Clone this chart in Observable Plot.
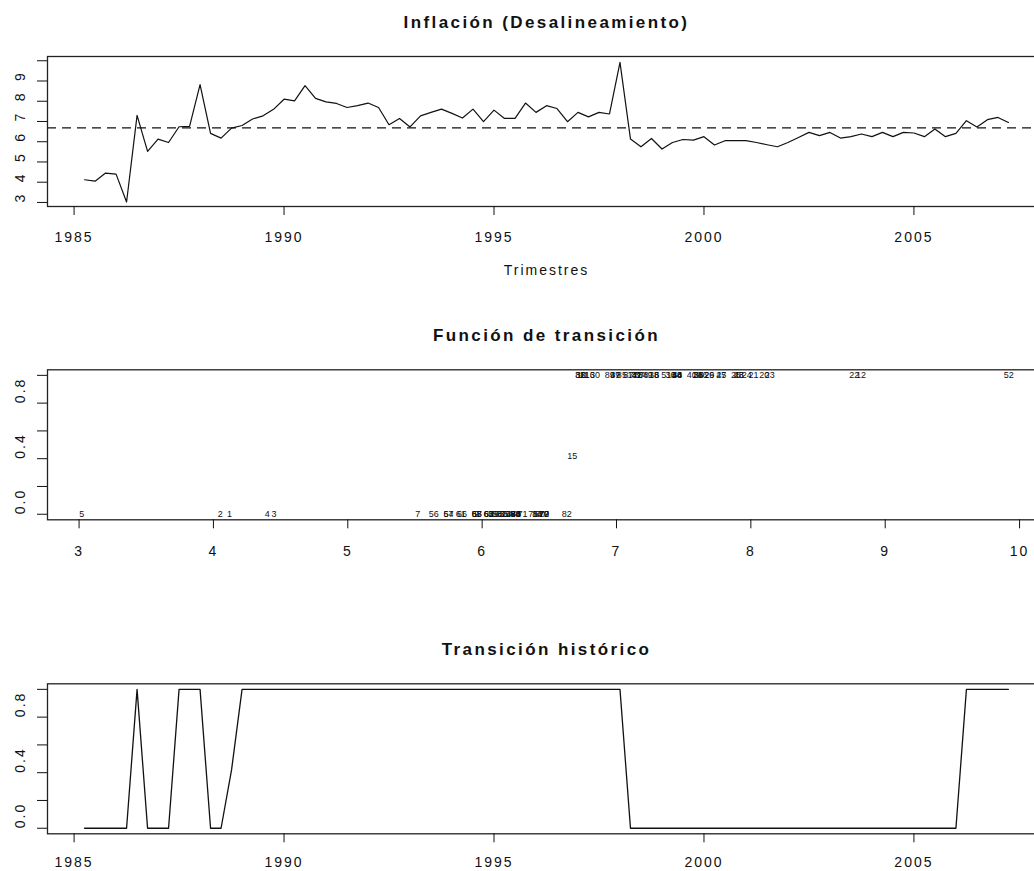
<!DOCTYPE html>
<html>
<head>
<meta charset="utf-8">
<script src="https://cdn.jsdelivr.net/npm/d3@7"></script>
<script src="https://cdn.jsdelivr.net/npm/@observablehq/plot@0.6"></script>
<style>
  html, body { margin: 0; padding: 0; background: #fff; overflow: hidden; }
  #lienzo { position: relative; width: 1034px; height: 871px; overflow: hidden; background: #fff; }
  .panel { position: absolute; left: 0; }
  .panel svg { max-width: none !important; letter-spacing: 2px; }
  g[aria-description="titulo"] { letter-spacing: 2.4px; }
  g[aria-description="etiquetas"] { letter-spacing: 0; }
</style>
</head>
<body>
<div id="lienzo"></div>
<script>
// Serie trimestral: inicia en 1985, trimestre 2 (frecuencia 4)
const inicio = [1985, 2];
const frecuencia = 4;

// Inflación (desalineamiento), 89 trimestres
const inflacion = [
  4.12, 4.05, 4.45, 4.40, 3.02, 7.30, 5.52, 6.13, 5.96, 6.74,
  6.76, 8.82, 6.41, 6.18, 6.67, 6.80, 7.12, 7.28, 7.60, 8.10,
  8.02, 8.77, 8.14, 7.97, 7.89, 7.69, 7.78, 7.91, 7.69, 6.84,
  7.15, 6.73, 7.28, 7.45, 7.61, 7.40, 7.17, 7.61, 6.99, 7.56,
  7.15, 7.15, 7.91, 7.45, 7.78, 7.64, 6.99, 7.45, 7.23, 7.45,
  7.37, 9.92, 6.13, 5.75, 6.16, 5.64, 5.96, 6.11, 6.08, 6.25,
  5.84, 6.05, 6.05, 6.05, 5.96, 5.85, 5.75, 5.96, 6.21, 6.46,
  6.30, 6.46, 6.18, 6.25, 6.38, 6.25, 6.46, 6.25, 6.46, 6.43,
  6.25, 6.63, 6.25, 6.41, 7.04, 6.73, 7.09, 7.20, 6.95
];

// Valor de la función de transición en cada trimestre
const transicion = [
  0, 0, 0, 0, 0, 1, 0, 0, 0, 1,
  1, 1, 0, 0, 0.42, 1, 1, 1, 1, 1,
  1, 1, 1, 1, 1, 1, 1, 1, 1, 1,
  1, 1, 1, 1, 1, 1, 1, 1, 1, 1,
  1, 1, 1, 1, 1, 1, 1, 1, 1, 1,
  1, 1, 0, 0, 0, 0, 0, 0, 0, 0,
  0, 0, 0, 0, 0, 0, 0, 0, 0, 0,
  0, 0, 0, 0, 0, 0, 0, 0, 0, 0,
  0, 0, 0, 0, 1, 1, 1, 1, 1
];

// Umbral (línea punteada)
const umbral = 6.68;

// Títulos y textos
const titulos = ["Inflación (Desalineamiento)", "Función de transición", "Transición histórico"];
const etiquetaX = "Trimestres";

// Marcas de los ejes
const aniosTicks = [1985, 1990, 1995, 2000, 2005];
const inflTicks = [3, 4, 5, 6, 7, 8, 9, 10];
const inflEtiquetas = [3, 4, 5, 6, 7, 8, 9];
const valorTicks = [3, 4, 5, 6, 7, 8, 9, 10];
const probTicks = [0, 0.2, 0.4, 0.6, 0.8, 1.0];
const probEtiquetas = [0, 0.4, 0.8];

// Índice temporal de la serie
const tiempo = inflacion.map((_, i) => inicio[0] + (inicio[1] - 1) / frecuencia + i / frecuencia);
const serie = inflacion.map((v, i) => ({t: tiempo[i], infl: v, g: transicion[i], id: i + 1}));

const ANCHO = 1050;
const IZQ = 47, DER = 5;
const fuente = "'Liberation Sans', Arial, Helvetica, sans-serif";
const tinta = "#111";
const estilo = {fontFamily: fuente, fontSize: "14px", background: "#fff", overflow: "visible", maxWidth: "none"};
const dominioT = [1984.367, 2008.133];

function titulo(texto) {
  return Plot.text([texto], {text: d => d, frameAnchor: "top", lineAnchor: "top", dy: -41, fontWeight: "bold", fontSize: 17, fill: tinta, ariaDescription: "titulo"});
}
function etiquetasY(valores, formato) {
  return Plot.text(valores, {y: d => d, text: formato, frameAnchor: "left", dx: -27, rotate: -90, fontSize: 14, fill: tinta});
}
function ejeX(ticks, relleno = 17) {
  return Plot.axisX({ticks, tickSize: 9, tickPadding: relleno, tickFormat: d => String(d), label: null, fontSize: 14, stroke: tinta, fill: tinta});
}
function ejeY(ticks) {
  return Plot.axisY({ticks, tickSize: 10, tickFormat: () => "", label: null, stroke: tinta});
}
function colocar(svg, top) {
  const div = document.createElement("div");
  div.className = "panel";
  div.style.top = top + "px";
  div.appendChild(svg);
  document.getElementById("lienzo").appendChild(div);
}

// Panel 1: serie de inflación con umbral
const p1 = Plot.plot({
  width: ANCHO, height: 290,
  marginLeft: IZQ, marginRight: DER, marginTop: 56, marginBottom: 84,
  style: estilo,
  x: {domain: dominioT},
  y: {domain: [2.80, 10.21]},
  marks: [
    Plot.ruleY([umbral], {stroke: tinta, strokeWidth: 1.3, strokeDasharray: "9,6"}),
    Plot.line(serie, {x: "t", y: "infl", stroke: tinta, strokeWidth: 1.2}),
    Plot.frame({stroke: "#222", strokeWidth: 1.3}),
    ejeX(aniosTicks),
    ejeY(inflTicks),
    etiquetasY(inflEtiquetas, d => String(d)),
    titulo(titulos[0]),
    Plot.text([etiquetaX], {text: d => d, frameAnchor: "bottom", lineAnchor: "top", dy: 59, fontSize: 14, fill: tinta})
  ]
});
colocar(p1, 0);

// Panel 2: función de transición frente a la inflación (etiquetada por observación)
const p2 = Plot.plot({
  width: ANCHO, height: 260,
  marginLeft: IZQ, marginRight: DER, marginTop: 69.3, marginBottom: 40.7,
  style: estilo,
  x: {domain: [2.765, 10.193]},
  y: {domain: [-0.04, 1.04]},
  marks: [
    Plot.text(serie, {x: "infl", y: "g", text: d => String(d.id), fontSize: 9, fill: tinta, ariaDescription: "etiquetas"}),
    Plot.frame({stroke: "#222", strokeWidth: 1.3}),
    ejeX(valorTicks),
    ejeY(probTicks),
    etiquetasY(probEtiquetas, d => d.toFixed(1)),
    titulo(titulos[1])
  ]
});
colocar(p2, 300);

// Panel 3: transición a lo largo del tiempo
const p3 = Plot.plot({
  width: ANCHO, height: 251,
  marginLeft: IZQ, marginRight: DER, marginTop: 63.3, marginBottom: 37.7,
  style: estilo,
  x: {domain: dominioT},
  y: {domain: [-0.04, 1.04]},
  marks: [
    Plot.line(serie, {x: "t", y: "g", stroke: tinta, strokeWidth: 1.3}),
    Plot.frame({stroke: "#222", strokeWidth: 1.3}),
    ejeX(aniosTicks, 14),
    ejeY(probTicks),
    etiquetasY(probEtiquetas, d => d.toFixed(1)),
    titulo(titulos[2])
  ]
});
colocar(p3, 620);
</script>
</body>
</html>
